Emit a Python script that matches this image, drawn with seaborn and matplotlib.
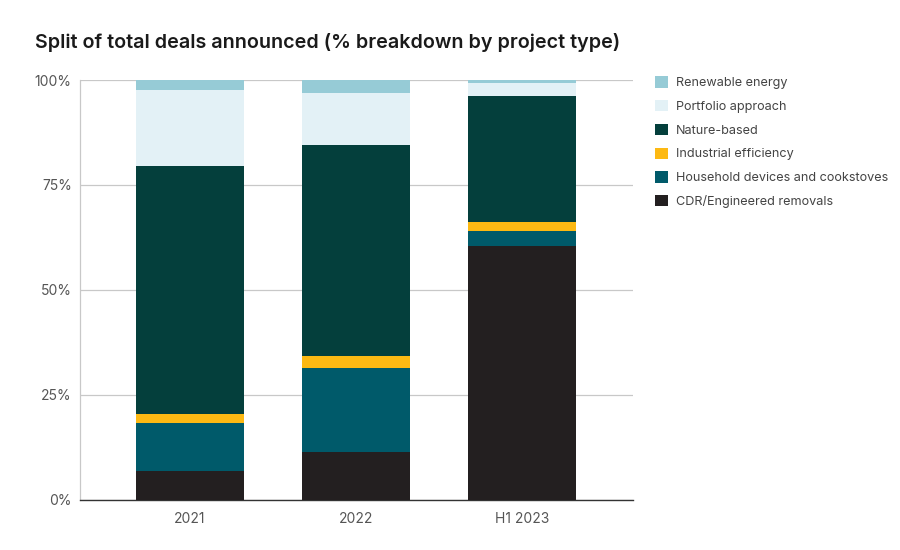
import numpy as np
import pandas as pd
import seaborn as sns
import matplotlib.pyplot as plt
from matplotlib.patches import Patch
from matplotlib.ticker import FuncFormatter

sns.set_theme(style="white")
plt.rcParams['font.family'] = ['Inter', 'DejaVu Sans']

periods = ['2021', '2022', 'H1 2023']
# shares in %, bottom to top
cdr = [6.8, 11.3, 60.5]
household = [11.5, 20.1, 3.6]
industrial = [2.1, 2.8, 2.0]
nature = [59.2, 50.2, 30.2]
portfolio = [18.1, 12.6, 2.9]
renewable = [2.3, 3.0, 0.8]

names = ['CDR/Engineered removals', 'Household devices and cookstoves',
         'Industrial efficiency', 'Nature-based', 'Portfolio approach',
         'Renewable energy']
colors = ['#231f20', '#005a6a', '#fdb913', '#043f3c', '#e3f1f6', '#96cbd6']

layers = np.array([cdr, household, industrial, nature, portfolio, renewable])
cum = layers.cumsum(axis=0)

fig = plt.figure(figsize=(9, 5.5), dpi=100)
ax = fig.add_axes([80/900, 1-499.5/550, 553/900, 419.5/550])

# draw cumulative totals, tallest first, so each layer covers the one above
for i in range(len(names) - 1, -1, -1):
    df = pd.DataFrame({'period': periods, 'share': cum[i]})
    sns.barplot(data=df, x='period', y='share', color=colors[i],
                saturation=1, width=0.65, ax=ax, zorder=3,
                edgecolor='none', linewidth=0)

ax.set_ylim(0, 100)
ax.set_xlim(-0.663, 2.667)
ax.set_yticks([0, 25, 50, 75, 100])
ax.yaxis.set_major_formatter(FuncFormatter(lambda v, p: f'{v:.0f}%'))
ax.grid(axis='y', color='#c8c8c8', linewidth=0.9, zorder=0)
ax.set_xlabel('')
ax.set_ylabel('')
for s in ['top', 'right']:
    ax.spines[s].set_visible(False)
ax.spines['left'].set_color('#c8c8c8')
ax.spines['left'].set_linewidth(0.9)
ax.spines['bottom'].set_color('#333333')
ax.spines['bottom'].set_linewidth(1.0)
ax.tick_params(axis='both', length=0, labelsize=10, colors='#555555', pad=6)
ax.tick_params(axis='x', pad=9)

fig.text(35/900, 1-42/550, 'Split of total deals announced (% breakdown by project type)',
         fontsize=14.2, fontweight='semibold', color='#1a1a1a', va='center')

handles = [Patch(facecolor=colors[i], edgecolor='none', label=names[i])
           for i in range(len(names) - 1, -1, -1)]
fig.legend(handles=handles, loc='upper left', bbox_to_anchor=(649/900, 1-70/550),
           frameon=False, fontsize=9.1, labelcolor='#444444', handlelength=1.0,
           handleheight=1.0, handletextpad=0.65, labelspacing=0.85, borderpad=0)

fig.savefig('out.png', dpi=100)
